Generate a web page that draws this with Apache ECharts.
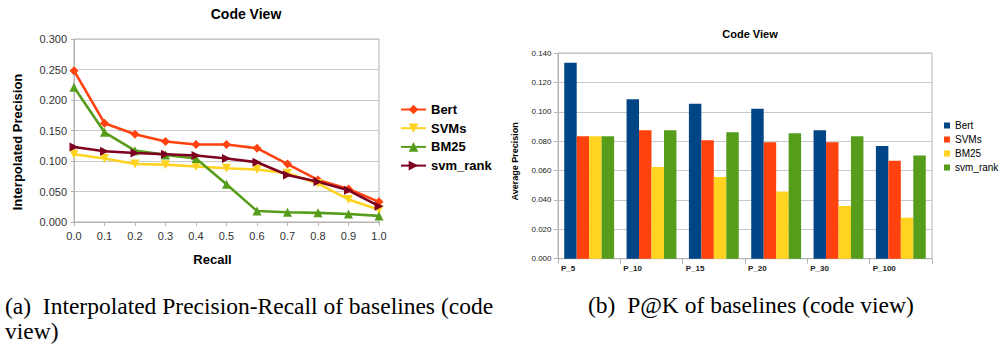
<!DOCTYPE html>
<html>
<head>
<meta charset="utf-8">
<script src="https://cdn.jsdelivr.net/npm/echarts@6/dist/echarts.min.js"></script>
<style>
  html, body { margin: 0; padding: 0; background: #fff; }
  #chart { width: 1003px; height: 345px; }
</style>
</head>
<body>
<div id="chart"></div>
<script>
// (a) interpolated precision at each recall level
const recallLabels = ['0.0', '0.1', '0.2', '0.3', '0.4', '0.5', '0.6', '0.7', '0.8', '0.9', '1.0'];
const prBert = [0.248, 0.162, 0.144, 0.132, 0.127, 0.127, 0.121, 0.095, 0.069, 0.054, 0.033];
const prSvms = [0.111, 0.104, 0.095, 0.094, 0.091, 0.088, 0.086, 0.080, 0.063, 0.037, 0.020];
const prBm25 = [0.221, 0.147, 0.117, 0.110, 0.104, 0.062, 0.018, 0.016, 0.015, 0.013, 0.010];
const prSvmRank = [0.123, 0.116, 0.113, 0.111, 0.109, 0.104, 0.098, 0.077, 0.066, 0.052, 0.026];

// (b) P@K
const pkLabels = ['P_5', 'P_10', 'P_15', 'P_20', 'P_30', 'P_100'];
const pkBert = [0.1334, 0.1085, 0.1055, 0.1020, 0.0874, 0.0767];
const pkSvms = [0.0833, 0.0874, 0.0806, 0.0792, 0.0792, 0.0667];
const pkBm25 = [0.0833, 0.0624, 0.0556, 0.0458, 0.0359, 0.0279];
const pkSvmRank = [0.0833, 0.0874, 0.0860, 0.0853, 0.0833, 0.0703];

const seriesNames = ['Bert', 'SVMs', 'BM25', 'svm_rank'];

const FONT = 'Liberation Sans';
const GRID_LINE = '#c8c8c8';
const AXIS_LINE = '#b3b3b3';

const chart = echarts.init(document.getElementById('chart'), null, { renderer: 'svg' });

function lineSeries(name, data, color, symbol, rotate, size) {
  return {
    name: name,
    type: 'line',
    xAxisIndex: 0,
    yAxisIndex: 0,
    data: data,
    symbol: symbol,
    symbolRotate: rotate,
    symbolSize: size,
    showSymbol: true,
    lineStyle: { color: color, width: 2.6 },
    itemStyle: { color: color },
    animation: false
  };
}

function barSeries(name, data, color) {
  return {
    name: name + '#b',
    type: 'bar',
    xAxisIndex: 1,
    yAxisIndex: 1,
    data: data,
    barGap: '0%',
    barCategoryGap: '20%',
    itemStyle: { color: color },
    animation: false
  };
}

chart.setOption({
  animation: false,
  textStyle: { fontFamily: FONT },
  title: [
    {
      text: 'Code View',
      left: 246,
      top: 7,
      textAlign: 'center',
      padding: 0,
      textStyle: { fontFamily: FONT, fontSize: 14, fontWeight: 'bold', color: '#000' }
    },
    {
      text: 'Code View',
      left: 750,
      top: 28,
      textAlign: 'center',
      padding: 0,
      textStyle: { fontFamily: FONT, fontSize: 11, fontWeight: 'bold', color: '#000' }
    }
  ],
  legend: [
    {
      data: seriesNames,
      orient: 'vertical',
      left: 400,
      top: 103,
      itemWidth: 25,
      itemHeight: 12,
      itemGap: 5.7,
      selectedMode: false,
      padding: 0,
      textStyle: { fontFamily: FONT, fontSize: 13, fontWeight: 'bold', color: '#000' }
    },
    {
      data: seriesNames.map(n => n + '#b'),
      formatter: n => n.split('#')[0],
      orient: 'vertical',
      left: 944,
      top: 120.5,
      icon: 'rect',
      itemWidth: 6,
      itemHeight: 6,
      itemGap: 4,
      selectedMode: false,
      padding: 0,
      textStyle: { fontFamily: FONT, fontSize: 10, color: '#000' }
    }
  ],
  grid: [
    { left: 74, right: 624, top: 39, bottom: 123, show: true, borderColor: AXIS_LINE, borderWidth: 1 },
    { left: 558, right: 71, top: 53, bottom: 86.3, show: true, borderColor: AXIS_LINE, borderWidth: 1 }
  ],
  xAxis: [
    {
      gridIndex: 0,
      type: 'category',
      data: recallLabels,
      boundaryGap: false,
      name: 'Recall',
      nameLocation: 'middle',
      nameGap: 31,
      nameTextStyle: { fontFamily: FONT, fontSize: 13, fontWeight: 'bold', color: '#000', padding: [0, 28, 0, 0] },
      axisLine: { lineStyle: { color: AXIS_LINE } },
      axisTick: { show: true, length: 4, lineStyle: { color: AXIS_LINE } },
      axisLabel: { fontFamily: FONT, fontSize: 11, color: '#333', margin: 8, interval: 0 },
      splitLine: { show: false }
    },
    {
      gridIndex: 1,
      type: 'category',
      data: pkLabels,
      boundaryGap: true,
      axisLine: { lineStyle: { color: AXIS_LINE } },
      axisTick: { show: true, length: 5, lineStyle: { color: AXIS_LINE } },
      axisLabel: { show: false },
      splitLine: { show: false }
    },
    {
      // tick-aligned labels for the P@K groups
      gridIndex: 1,
      type: 'category',
      position: 'bottom',
      data: pkLabels.concat(['']),
      boundaryGap: false,
      axisLine: { show: false },
      axisTick: { show: false },
      axisLabel: {
        fontFamily: FONT, fontSize: 8, fontWeight: 'bold', color: '#222',
        align: 'left', margin: 6, interval: 0, padding: [0, 0, 0, 3]
      },
      splitLine: { show: false }
    }
  ],
  yAxis: [
    {
      gridIndex: 0,
      type: 'value',
      min: 0,
      max: 0.3,
      interval: 0.05,
      name: 'Interpolated Precision',
      nameLocation: 'middle',
      nameGap: 50,
      nameTextStyle: { fontFamily: FONT, fontSize: 13, fontWeight: 'bold', color: '#000', padding: [0, 23, 0, 0] },
      axisLine: { show: true, lineStyle: { color: AXIS_LINE } },
      axisTick: { show: true, length: 3, lineStyle: { color: AXIS_LINE } },
      axisLabel: { fontFamily: FONT, fontSize: 11, color: '#333', margin: 7, formatter: v => v.toFixed(3) },
      splitLine: { lineStyle: { color: GRID_LINE } }
    },
    {
      gridIndex: 1,
      type: 'value',
      min: 0,
      max: 0.14,
      interval: 0.02,
      name: 'Average Precision',
      nameLocation: 'middle',
      nameGap: 39,
      nameTextStyle: { fontFamily: FONT, fontSize: 9, fontWeight: 'bold', color: '#000', padding: [0, 11, 0, 0] },
      axisLine: { show: true, lineStyle: { color: AXIS_LINE } },
      axisTick: { show: true, length: 4, lineStyle: { color: AXIS_LINE } },
      axisLabel: { fontFamily: FONT, fontSize: 8, color: '#222', margin: 6.5, formatter: v => v.toFixed(3) },
      splitLine: { lineStyle: { color: GRID_LINE } }
    }
  ],
  series: [
    lineSeries('Bert', prBert, '#ff420e', 'diamond', 0, 9),
    lineSeries('SVMs', prSvms, '#ffd320', 'triangle', 180, 9),
    lineSeries('BM25', prBm25, '#579d1c', 'triangle', 0, 9),
    lineSeries('svm_rank', prSvmRank, '#7e0021', 'triangle', -90, 9),
    barSeries('Bert', pkBert, '#004586'),
    barSeries('SVMs', pkSvms, '#ff420e'),
    barSeries('BM25', pkBm25, '#ffd320'),
    barSeries('svm_rank', pkSvmRank, '#579d1c')
  ],
  graphic: [
    {
      type: 'text', left: 5, top: 294,
      style: { text: '(a)\u00a0\u00a0Interpolated Precision-Recall of baselines (code', font: '23.5px "Liberation Serif"', fill: '#000' }
    },
    {
      type: 'text', left: 5, top: 319,
      style: { text: 'view)', font: '23.5px "Liberation Serif"', fill: '#000' }
    },
    {
      type: 'text', left: 588, top: 293,
      style: { text: '(b)\u00a0\u00a0P@K of baselines (code view)', font: '23.5px "Liberation Serif"', fill: '#000' }
    }
  ]
});
</script>
</body>
</html>
